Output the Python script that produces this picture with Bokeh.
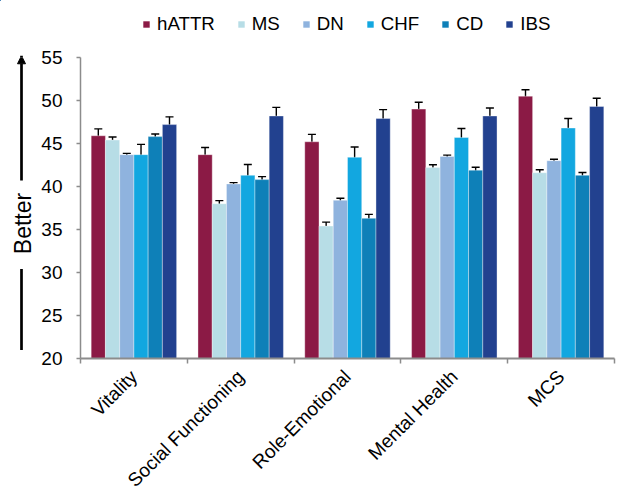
import math
from bokeh.plotting import figure
from bokeh.layouts import row, column
from bokeh.models import (ColumnDataSource, Range1d, FixedTicker, Whisker, TeeHead,
                          Legend, LegendItem, Label, Arrow, NormalHead)
from bokeh.transform import dodge
from bokeh.embed import file_html
from bokeh.resources import INLINE

# ---------------- data ----------------
categories = ["Vitality", "Social Functioning", "Role-Emotional", "Mental Health", "MCS"]
series = ["hATTR", "MS", "DN", "CHF", "CD", "IBS"]
colors = ["#8B1A45", "#B7DDE6", "#8FB3DE", "#12A7E0", "#0E80B8", "#22418F"]

hATTR = [45.9, 43.7, 45.2, 49.0, 50.5]
MS    = [45.4, 38.0, 35.4, 42.2, 41.6]
DN    = [43.7, 40.3, 38.4, 43.5, 43.0]
CHF   = [43.7, 41.3, 43.4, 45.7, 46.8]
CD    = [45.8, 40.8, 36.3, 41.9, 41.3]
IBS   = [47.2, 48.2, 47.9, 48.2, 49.3]

hATTR_err = [0.80, 0.83, 0.86, 0.79, 0.75]
MS_err    = [0.35, 0.36, 0.46, 0.33, 0.35]
DN_err    = [0.15, 0.15, 0.23, 0.15, 0.17]
CHF_err   = [1.20, 1.25, 1.20, 1.05, 1.10]
CD_err    = [0.30, 0.35, 0.46, 0.33, 0.33]
IBS_err   = [0.90, 1.00, 1.04, 0.92, 0.96]

y_ticks = [20, 25, 30, 35, 40, 45, 50, 55]
y_label = "Better"

values = dict(hATTR=hATTR, MS=MS, DN=DN, CHF=CHF, CD=CD, IBS=IBS)
errors = dict(hATTR=hATTR_err, MS=MS_err, DN=DN_err, CHF=CHF_err, CD=CD_err, IBS=IBS_err)

FONT = "Liberation Sans"
n_cat = len(categories)
n_ser = len(series)
group_w = 0.8
bar_w = group_w / n_ser

W, H = 617, 501
LEG_H = 35          # height of the legend strip on top
TOP = 57 - LEG_H    # space between legend strip and plot frame
BOTTOM = 143
LEFT_W = 36
MAIN_H = H - LEG_H

data = {"xc": [i + 0.5 for i in range(n_cat)]}
for s in series:
    data[s] = values[s]
    data[s + "_lo"] = [v - e for v, e in zip(values[s], errors[s])]
    data[s + "_hi"] = [v + e for v, e in zip(values[s], errors[s])]
src = ColumnDataSource(data)

yr = Range1d(y_ticks[0], y_ticks[-1])

# ---------------- main chart ----------------
p = figure(width=W - LEFT_W, height=MAIN_H, output_backend="svg", toolbar_location=None,
           x_range=Range1d(0, n_cat), y_range=yr,
           min_border_left=80 - LEFT_W, min_border_right=3, min_border_top=TOP,
           min_border_bottom=BOTTOM)
p.outline_line_color = None
p.xgrid.visible = False
p.ygrid.visible = False

for k, s in enumerate(series):
    off = (k - (n_ser - 1) / 2) * bar_w
    p.vbar(x=dodge("xc", off, range=p.x_range), top=s, bottom=y_ticks[0], width=bar_w,
           source=src, fill_color=colors[k], line_color="white", line_alpha=0.45, line_width=0.8)
    p.add_layout(Whisker(base=dodge("xc", off, range=p.x_range), lower=s + "_lo", upper=s + "_hi",
                         source=src, line_color="black", line_width=1.4,
                         upper_head=TeeHead(size=8, line_color="black", line_width=1.4),
                         lower_head=TeeHead(size=8, line_color="black", line_width=1.4)))

# y axis
p.yaxis.ticker = FixedTicker(ticks=y_ticks)
p.yaxis.axis_line_color = "#8C8C8C"
p.yaxis.axis_line_width = 1.5
p.yaxis.major_tick_line_color = "#8C8C8C"
p.yaxis.major_tick_line_width = 1.5
p.yaxis.major_tick_out = 4
p.yaxis.major_tick_in = 0
p.yaxis.minor_tick_line_color = None
p.yaxis.major_label_text_font = FONT
p.yaxis.major_label_text_font_size = "19px"
p.yaxis.major_label_text_color = "black"
p.yaxis.major_label_standoff = 14

# x axis: labels at category centres, ticks at category boundaries
p.xaxis.ticker = FixedTicker(ticks=[i + 0.5 for i in range(n_cat)],
                             minor_ticks=[i for i in range(n_cat + 1)])
p.xaxis.major_label_overrides = {i + 0.5: c for i, c in enumerate(categories)}
p.xaxis.major_tick_line_color = None
p.xaxis.minor_tick_line_color = "#8C8C8C"
p.xaxis.minor_tick_line_width = 1.5
p.xaxis.minor_tick_out = 5
p.xaxis.minor_tick_in = 0
p.xaxis.axis_line_color = "#8C8C8C"
p.xaxis.axis_line_width = 2
p.xaxis.major_label_orientation = math.pi / 4
p.xaxis.major_label_text_font = FONT
p.xaxis.major_label_text_font_size = "19px"
p.xaxis.major_label_text_color = "black"
p.xaxis.major_label_standoff = 9

# ---------------- legend strip ----------------
# the strip's ranges keep its bars far out of view; only the legend swatches show
lg = figure(width=W, height=LEG_H, output_backend="svg", toolbar_location=None,
            x_range=Range1d(100, 101), y_range=Range1d(-101, -100),
            min_border_left=0, min_border_right=0, min_border_top=0, min_border_bottom=0)
lg.axis.visible = False
lg.grid.visible = False
lg.outline_line_color = None
items = []
for k, s in enumerate(series):
    r = lg.vbar(x="xc", top=s, bottom=y_ticks[0], width=bar_w, source=src,
                fill_color=colors[k], line_color=None)
    items.append(LegendItem(label=s, renderers=[r]))
legend = Legend(items=items, orientation="horizontal", location=(142, 0),
                glyph_width=8, glyph_height=8, label_standoff=7, spacing=22,
                padding=0, margin=0, border_line_color=None, background_fill_alpha=0,
                label_text_font=FONT, label_text_font_size="18.7px", label_text_color="black")
lg.add_layout(legend, "center")

# ---------------- left strip: "Better" with arrow decoration ----------------
d = figure(width=LEFT_W, height=MAIN_H, output_backend="svg", toolbar_location=None,
           x_range=Range1d(0, LEFT_W), y_range=yr,
           min_border_left=0, min_border_right=0, min_border_top=TOP, min_border_bottom=BOTTOM)
d.axis.visible = False
d.grid.visible = False
d.outline_line_color = None
d.add_layout(Label(x=22.5, y=35.7, text=y_label, angle=math.pi / 2, text_align="center",
                   text_baseline="middle", text_font=FONT, text_font_size="23px",
                   text_color="black"))
d.add_layout(Arrow(x_start=21, y_start=40.7, x_end=21, y_end=55.2,
                   line_color="black", line_width=2.7,
                   end=NormalHead(size=8, fill_color="black", line_color="black")))
d.add_layout(Arrow(x_start=21, y_start=21.0, x_end=21, y_end=30.4,
                   line_color="black", line_width=2.7, end=None))

layout = column(lg, row(d, p, spacing=0), spacing=0)

open("out.html", "w").write(file_html(layout, INLINE))
